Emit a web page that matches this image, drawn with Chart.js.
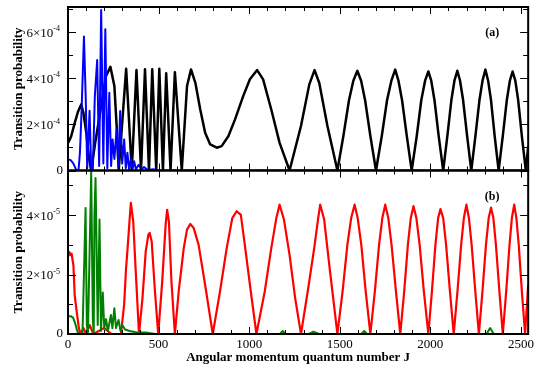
<!DOCTYPE html>
<html>
<head>
<meta charset="utf-8">
<script src="https://cdn.jsdelivr.net/npm/chart.js@4"></script>
<style>
  html, body { margin: 0; background: #fff; }
</style>
</head>
<body>
<canvas id="myChart" width="537" height="366"></canvas>
<script>
// panel (a): J values and transition probabilities
const blackJ = [0, 10, 18, 35, 55, 73, 85, 101, 115, 128, 150, 174, 195, 210, 234, 256, 268, 280,
  321, 352, 378, 403, 425, 447, 465, 487, 504, 524, 542, 566, 590, 628,
  657, 679, 703, 730, 757, 785, 821, 848, 885, 922, 967, 1004, 1044, 1077, 1122, 1168, 1223,
  1286, 1332, 1361, 1387, 1432, 1487,
  1520, 1551, 1575, 1597, 1618, 1640, 1669, 1700,
  1732, 1761, 1785, 1806, 1824, 1844, 1870, 1897,
  1925, 1950, 1971, 1989, 2005, 2023, 2046, 2071,
  2094, 2116, 2133, 2149, 2164, 2181, 2203, 2226,
  2249, 2271, 2288, 2304, 2319, 2335, 2355, 2377,
  2400, 2422, 2439, 2454, 2469, 2485, 2505, 2527, 2540];
const blackP = [1.2e-4, 1.35e-4, 1.5e-4, 2.0e-4, 2.55e-4, 2.87e-4, 2.5e-4, 1.64e-4, 0.6e-4, 0,
  1.2e-4, 2.36e-4, 3.4e-4, 4.1e-4, 4.5e-4, 3.67e-4, 2.0e-4, 0,
  4.42e-4, 0, 4.36e-4, 0, 4.4e-4, 0, 4.4e-4, 0, 4.42e-4, 0, 4.22e-4, 0, 4.27e-4, 0,
  3.67e-4, 4.39e-4, 3.81e-4, 2.65e-4, 1.64e-4, 1.13e-4, 0.99e-4, 1.06e-4, 1.49e-4, 2.22e-4,
  3.23e-4, 3.96e-4, 4.36e-4, 3.96e-4, 2.65e-4, 1.2e-4, 0,
  1.93e-4, 3.74e-4, 4.36e-4, 3.8e-4, 1.93e-4, 0,
  1.5e-4, 3.05e-4, 3.9e-4, 4.33e-4, 3.9e-4, 3.05e-4, 1.5e-4, 0,
  1.5e-4, 3.05e-4, 3.9e-4, 4.38e-4, 3.9e-4, 3.05e-4, 1.5e-4, 0,
  1.5e-4, 3.05e-4, 3.9e-4, 4.3e-4, 3.9e-4, 3.05e-4, 1.5e-4, 0,
  1.5e-4, 3.05e-4, 3.9e-4, 4.33e-4, 3.9e-4, 3.05e-4, 1.5e-4, 0,
  1.5e-4, 3.05e-4, 3.9e-4, 4.38e-4, 3.9e-4, 3.05e-4, 1.5e-4, 0,
  1.5e-4, 3.05e-4, 3.9e-4, 4.3e-4, 3.9e-4, 3.05e-4, 1.5e-4, 0, 1.05e-4];

const blueJ = [0, 15, 30, 46, 58, 66, 75, 88, 98, 106, 119, 128, 137, 148, 161, 172, 183, 195, 206, 217,
  228, 238, 246, 256, 268, 278, 288, 299, 310, 319, 328, 337, 347, 356, 365, 375, 390, 405, 420, 440,
  470, 500, 2540];
const blueP = [0.48e-4, 0.45e-4, 0.3e-4, 0.02e-4, 0, 0.8e-4, 2.6e-4, 5.82e-4, 3.1e-4, 0.1e-4,
  2.6e-4, 0.1e-4, 0, 3.2e-4, 4.8e-4, 0.2e-4, 6.97e-4, 0.3e-4, 6.13e-4, 0.1e-4,
  3.38e-4, 0.2e-4, 1.35e-4, 0.5e-4, 1.78e-4, 0.2e-4, 2.58e-4, 0.3e-4, 1.35e-4, 0.1e-4,
  0.77e-4, 0.05e-4, 0.5e-4, 0.05e-4, 0.4e-4, 0.05e-4, 0.25e-4, 0.05e-4, 0.15e-4, 0.02e-4,
  0.05e-4, 0, 0];

// panel (b)
const redJ = [0, 8, 14, 20, 30, 37, 49, 60, 68, 85, 100, 120, 140, 200, 240, 292,
  310, 320, 329, 342, 347, 360, 374, 392, 411, 429, 444, 451, 462, 480, 498,
  520, 539, 547, 557, 571, 590, 611, 639, 657, 675, 694, 721, 757, 799,
  839, 876, 907, 931, 954, 976, 1009, 1040, 1086, 1122, 1150, 1168, 1192, 1223, 1254, 1286,
  1326, 1359, 1381, 1392, 1414, 1442, 1487,
  1516, 1542, 1563, 1582, 1599, 1619, 1643, 1669,
  1694, 1717, 1735, 1751, 1768, 1786, 1810, 1834,
  1856, 1876, 1892, 1907, 1923, 1941, 1964, 1989,
  2009, 2028, 2043, 2056, 2071, 2087, 2108, 2129,
  2150, 2170, 2185, 2199, 2213, 2228, 2248, 2268,
  2288, 2307, 2322, 2335, 2348, 2362, 2381, 2400,
  2419, 2437, 2450, 2463, 2475, 2488, 2505, 2523, 2540];
const redP = [2.6e-5, 2.75e-5, 2.65e-5, 2.7e-5, 2.3e-5, 1.3e-5, 0.7e-5, 0.2e-5, 0, 0.2e-5, 0, 0.3e-5, 0, 0.2e-5, 0, 0,
  1.0e-5, 2.16e-5, 2.89e-5, 4.01e-5, 4.41e-5, 3.79e-5, 2.1e-5, 0, 1.2e-5, 2.78e-5, 3.35e-5, 3.4e-5, 3.11e-5, 1.43e-5, 0,
  1.76e-5, 3.68e-5, 4.18e-5, 3.79e-5, 1.76e-5, 0, 1.43e-5, 2.89e-5, 3.51e-5, 3.7e-5, 3.56e-5, 3.0e-5, 1.65e-5, 0,
  1.43e-5, 2.89e-5, 3.9e-5, 4.13e-5, 4.01e-5, 3.0e-5, 1.43e-5, 0, 1.43e-5, 2.89e-5, 3.9e-5, 4.35e-5, 3.85e-5, 2.66e-5, 1.2e-5, 0,
  1.54e-5, 2.89e-5, 3.9e-5, 4.35e-5, 3.85e-5, 2.33e-5, 0,
  1.45e-5, 3.0e-5, 3.9e-5, 4.35e-5, 3.9e-5, 3.0e-5, 1.45e-5, 0,
  1.45e-5, 3.0e-5, 3.9e-5, 4.35e-5, 3.9e-5, 3.0e-5, 1.45e-5, 0,
  1.45e-5, 3.0e-5, 3.9e-5, 4.3e-5, 3.9e-5, 3.0e-5, 1.45e-5, 0,
  1.45e-5, 3.0e-5, 3.9e-5, 4.2e-5, 3.9e-5, 3.0e-5, 1.45e-5, 0,
  1.45e-5, 3.0e-5, 3.9e-5, 4.35e-5, 3.9e-5, 3.0e-5, 1.45e-5, 0,
  1.45e-5, 3.0e-5, 3.9e-5, 4.25e-5, 3.9e-5, 3.0e-5, 1.45e-5, 0,
  1.45e-5, 3.0e-5, 3.9e-5, 4.35e-5, 3.9e-5, 3.0e-5, 1.45e-5, 0, 1.65e-5];

const greenJ = [0, 15, 28, 40, 50, 58, 80, 88, 97, 104, 110, 120, 128, 137, 142, 146, 152, 164, 174, 182,
  192, 200, 210, 220, 237, 245, 256, 265, 279, 290, 300, 315, 340, 380, 430, 480,
  1170, 1185, 1200, 1330, 1355, 1385, 1620, 1635, 1650, 2310, 2330, 2350, 2540];
const greenP = [0.6e-5, 0.6e-5, 0.55e-5, 0.35e-5, 0.12e-5, 0, 0, 2.0e-5, 4.24e-5, 0.3e-5,
  0, 3.0e-5, 5.46e-5, 0.5e-5, 0, 4.0e-5, 5.25e-5, 0.3e-5, 3.85e-5, 0.1e-5,
  1.4e-5, 0.2e-5, 0.5e-5, 0.1e-5, 0.64e-5, 0.2e-5, 0.87e-5, 0.2e-5, 0.47e-5, 0.1e-5,
  0.3e-5, 0.15e-5, 0.1e-5, 0.05e-5, 0.05e-5, 0,
  0, 0.1e-5, 0, 0, 0.08e-5, 0, 0, 0.1e-5, 0, 0, 0.2e-5, 0, 0];

// axes
const xMax = 2540;
const xTicks = [0, 500, 1000, 1500, 2000, 2500];
const topMax = 7.1e-4;
const topTicks = [0, 2e-4, 4e-4, 6e-4];
const topTickLabels = ["0", "2\u00d710^-4", "4\u00d710^-4", "6\u00d710^-4"];
const bottomMax = 5.5e-5;
const bottomTicks = [0, 2e-5, 4e-5];
const bottomTickLabels = ["0", "2\u00d710^-5", "4\u00d710^-5"];

const serif = '"Liberation Serif", "Times New Roman", serif';
const pts = (J, P) => J.map((j, i) => ({ x: j, y: P[i] }));

function line(data, color, axis, w) {
  return {
    data, yAxisID: axis, borderColor: color, borderWidth: w,
    pointRadius: 0, tension: 0, borderJoinStyle: 'round', fill: false
  };
}

// frame, inward ticks, y tick labels with superscripts, panel tags
const frame = {
  id: 'frame',
  afterDatasetsDraw(chart) {
    const ctx = chart.ctx;
    const x = chart.scales.x;
    const panels = [
      { y: chart.scales.yA, ticks: topTicks, labels: topTickLabels, step: 1e-4, max: topMax, tag: '(a)' },
      { y: chart.scales.yB, ticks: bottomTicks, labels: bottomTickLabels, step: 1e-5, max: bottomMax, tag: '(b)' }
    ];
    ctx.save();
    ctx.strokeStyle = '#000';
    ctx.fillStyle = '#000';
    panels.forEach(p => {
      const top = p.y.top, bot = p.y.bottom, l = x.left, r = x.right;
      ctx.lineWidth = 1;
      ctx.beginPath();
      for (let v = 0; v <= xMax; v += 100) {
        const px = Math.round(x.getPixelForValue(v)) + 0.5;
        const len = v % 500 === 0 ? 7 : 4;
        ctx.moveTo(px, bot); ctx.lineTo(px, bot - len);
        ctx.moveTo(px, top); ctx.lineTo(px, top + len);
      }
      for (let k = 0; k * p.step <= p.max + 1e-12; k++) {
        const py = Math.round(p.y.getPixelForValue(k * p.step)) + 0.5;
        const len = k % 2 === 0 ? 8 : 5;
        ctx.moveTo(l, py); ctx.lineTo(l + len, py);
        ctx.moveTo(r, py); ctx.lineTo(r - len, py);
      }
      ctx.stroke();
      ctx.lineWidth = 2;
      ctx.strokeRect(l, top, r - l, bot - top);

      ctx.textBaseline = 'middle';
      ctx.textAlign = 'right';
      p.ticks.forEach((v, i) => {
        const py = p.y.getPixelForValue(v);
        const [base, sup] = p.labels[i].split('^');
        if (!sup) {
          ctx.font = '13px ' + serif;
          ctx.fillText(base, l - 5, py);
          return;
        }
        ctx.font = '8px ' + serif;
        const sw = ctx.measureText(sup).width;
        ctx.fillText(sup, l - 8, py - 3);
        ctx.font = '13px ' + serif;
        ctx.fillText(base, l - 8 - sw, py + 1);
      });
      ctx.font = 'bold 12px ' + serif;
      ctx.textAlign = 'center';
      ctx.fillText(p.tag, r - 36, top + 26);
    });
    ctx.restore();
  }
};

const yBase = {
  type: 'linear', position: 'left', stack: 'panels', stackWeight: 1, min: 0,
  grid: { display: false, drawTicks: false }, border: { display: false },
  ticks: { display: false },
  afterFit: s => { s.width = 68; },
  title: {
    display: true, text: 'Transition probability', color: '#000',
    font: { family: serif, size: 13, weight: 'bold' }, padding: { top: 11, bottom: 0 }
  }
};

new Chart(document.getElementById('myChart'), {
  type: 'line',
  data: {
    datasets: [
      line(pts(blueJ, blueP), '#0000ff', 'yA', 2),
      line(pts(blackJ, blackP), '#000000', 'yA', 2.5),
      line(pts(greenJ, greenP), '#008000', 'yB', 2),
      line(pts(redJ, redP), '#ff0000', 'yB', 2.2)
    ]
  },
  options: {
    responsive: false,
    animation: false,
    devicePixelRatio: 1,
    layout: { padding: { top: 7, right: 5, left: 0, bottom: 0 } },
    plugins: { legend: { display: false }, tooltip: { enabled: false } },
    scales: {
      x: {
        type: 'linear', position: 'bottom', min: 0, max: xMax,
        grid: { display: false, drawTicks: false }, border: { display: false },
        ticks: {
          color: '#000', font: { family: serif, size: 13 }, padding: 3,
          maxRotation: 0, autoSkip: false, callback: v => String(v)
        },
        afterBuildTicks: s => { s.ticks = xTicks.map(v => ({ value: v })); },
        afterFit: s => { s.height = 32; },
        title: {
          display: true, text: 'Angular momentum quantum number J', color: '#000',
          font: { family: serif, size: 13, weight: 'bold' }, padding: { top: 0, bottom: 1 }
        }
      },
      yA: Object.assign({}, yBase, { max: topMax, weight: 2 }),
      yB: Object.assign({}, yBase, { max: bottomMax, weight: 1 })
    }
  },
  plugins: [frame]
});
</script>
</body>
</html>
